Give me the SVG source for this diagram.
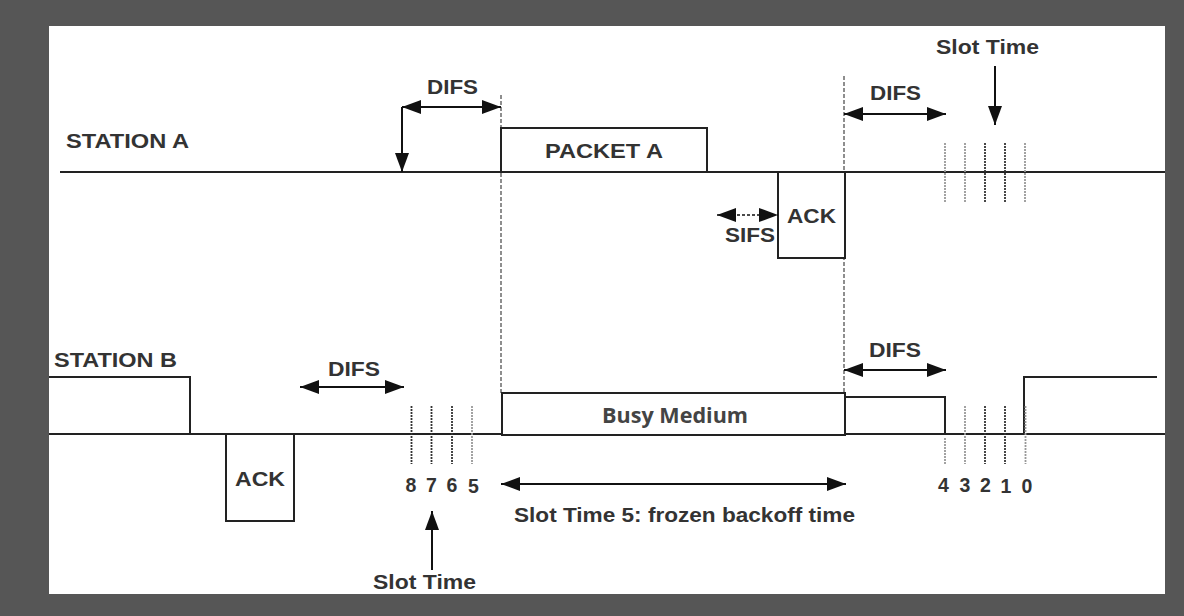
<svg xmlns="http://www.w3.org/2000/svg" width="1184" height="616" viewBox="0 0 1184 616">
<style>
.ln{stroke:#222;stroke-width:2;fill:none}
.bx{stroke:#222;stroke-width:2;fill:#fff}
.t{font-family:"Liberation Sans",Arial,sans-serif;font-weight:bold;font-size:21px;fill:#333}
.d{font-family:"Liberation Sans",Arial,sans-serif;font-weight:bold;font-size:19.5px;fill:#333;text-anchor:middle}
.bm{font-family:"Open Sans","Noto Sans",sans-serif;font-weight:bold;font-size:21px;fill:#444}
.ar{stroke:#111;stroke-width:2;fill:none}
.sifs{stroke:#111;stroke-width:1.5;fill:none;stroke-dasharray:3,2}
.vd{stroke:#444;stroke-width:1.2;fill:none;stroke-dasharray:4,2}
.tk{stroke-width:1.8;fill:none;stroke-dasharray:2,1}
.tk1{stroke:#999}
.tk2{stroke:#333}
</style>
<defs>
<marker id="ah" markerUnits="userSpaceOnUse" markerWidth="19" markerHeight="14" refX="19" refY="7" orient="auto-start-reverse">
<path d="M0,0 L19,7 L0,14 z" fill="#111"/>
</marker>
</defs>
<rect x="0" y="0" width="1184" height="616" fill="#565656"/>
<rect x="49" y="26" width="1116" height="568" fill="#fff"/>

<g id="guides">
<line class="vd" x1="501" y1="95" x2="501" y2="393"/>
<line class="vd" x1="844" y1="76" x2="844" y2="392"/>
</g>

<g id="station-a">
<text class="t" x="66" y="148" textLength="123" lengthAdjust="spacingAndGlyphs">STATION A</text>
<line class="ln" x1="60" y1="172" x2="1165" y2="172"/>
</g>
<g id="packet-a">
<rect class="bx" x="501" y="128" width="206" height="44"/>
<text class="t" x="545" y="158" textLength="118" lengthAdjust="spacingAndGlyphs">PACKET A</text>
</g>
<g id="ack-a">
<rect class="bx" x="778" y="172" width="67" height="86"/>
<text class="t" x="787" y="223" textLength="49" lengthAdjust="spacingAndGlyphs">ACK</text>
</g>
<g id="slots-a">
<line class="tk tk1" x1="945" y1="143" x2="945" y2="202"/>
<line class="tk tk1" x1="965" y1="143" x2="965" y2="202"/>
<line class="tk tk2" x1="985" y1="143" x2="985" y2="202"/>
<line class="tk tk2" x1="1005" y1="143" x2="1005" y2="202"/>
<line class="tk tk1" x1="1025" y1="143" x2="1025" y2="202"/>
</g>

<g id="station-b">
<text class="t" x="54" y="367" textLength="123" lengthAdjust="spacingAndGlyphs">STATION B</text>
<line class="ln" x1="49" y1="434" x2="1165" y2="434"/>
<path class="ln" d="M49,377 H190 V434"/>
</g>
<g id="ack-b">
<rect class="bx" x="226" y="434" width="68" height="87"/>
<text class="t" x="235" y="486" textLength="50" lengthAdjust="spacingAndGlyphs">ACK</text>
</g>
<g id="busy-medium">
<rect class="bx" x="502" y="393" width="343" height="42"/>
<text class="bm" x="602" y="423" textLength="146" lengthAdjust="spacingAndGlyphs">Busy Medium</text>
</g>
<g id="difs-box-b">
<path class="ln" d="M845,397 H945 V435"/>
</g>
<g id="transmit-b">
<path class="ln" d="M1024,434 V377 H1157"/>
</g>
<g id="slots-b-left">
<line class="tk tk2" x1="411.5" y1="406" x2="411.5" y2="464"/>
<line class="tk tk2" x1="431.5" y1="406" x2="431.5" y2="464"/>
<line class="tk tk2" x1="452" y1="406" x2="452" y2="464"/>
<line class="tk tk1" x1="472" y1="406" x2="472" y2="464"/>
<text class="d" x="411" y="492">8</text>
<text class="d" x="431.5" y="492">7</text>
<text class="d" x="452" y="492">6</text>
<text class="d" x="473.5" y="493">5</text>
</g>
<g id="slots-b-right">
<line class="tk tk1" x1="945" y1="438" x2="945" y2="464"/>
<line class="tk tk1" x1="965" y1="406" x2="965" y2="464"/>
<line class="tk tk2" x1="985" y1="406" x2="985" y2="464"/>
<line class="tk tk2" x1="1005" y1="406" x2="1005" y2="464"/>
<line class="tk tk1" x1="1025.5" y1="406" x2="1025.5" y2="464"/>
<text class="d" x="943.5" y="492">4</text>
<text class="d" x="965" y="492">3</text>
<text class="d" x="985.5" y="492">2</text>
<text class="d" x="1006" y="493">1</text>
<text class="d" x="1027" y="493">0</text>
</g>

<g id="connectors">
<line class="ar" x1="402" y1="107" x2="501" y2="107" marker-start="url(#ah)" marker-end="url(#ah)"/>
<line class="ar" x1="402" y1="107" x2="402" y2="172" marker-end="url(#ah)"/>
<line class="ar" x1="844" y1="114" x2="946" y2="114" marker-start="url(#ah)" marker-end="url(#ah)"/>
<line class="ar" x1="995" y1="66" x2="995" y2="125" marker-end="url(#ah)"/>
<line class="sifs" x1="717" y1="215" x2="778" y2="215" marker-start="url(#ah)" marker-end="url(#ah)"/>
<line class="ar" x1="300" y1="387" x2="404" y2="387" marker-start="url(#ah)" marker-end="url(#ah)"/>
<line class="ar" x1="844" y1="370" x2="946" y2="370" marker-start="url(#ah)" marker-end="url(#ah)"/>
<line class="ar" x1="501" y1="484" x2="846" y2="484" marker-start="url(#ah)" marker-end="url(#ah)"/>
<line class="ar" x1="432" y1="570" x2="432" y2="511" marker-end="url(#ah)"/>
</g>

<g id="labels">
<text class="t" x="427" y="94" textLength="51" lengthAdjust="spacingAndGlyphs">DIFS</text>
<text class="t" x="870" y="100" textLength="51" lengthAdjust="spacingAndGlyphs">DIFS</text>
<text class="t" x="936" y="54" textLength="103" lengthAdjust="spacingAndGlyphs">Slot Time</text>
<text class="t" x="725" y="242" textLength="50" lengthAdjust="spacingAndGlyphs">SIFS</text>
<text class="t" x="328" y="376" textLength="52" lengthAdjust="spacingAndGlyphs">DIFS</text>
<text class="t" x="869" y="357" textLength="52" lengthAdjust="spacingAndGlyphs">DIFS</text>
<text class="t" x="373" y="589" textLength="103" lengthAdjust="spacingAndGlyphs">Slot Time</text>
<text class="t" x="514" y="522" textLength="341" lengthAdjust="spacingAndGlyphs">Slot Time 5: frozen backoff time</text>
</g>
</svg>
